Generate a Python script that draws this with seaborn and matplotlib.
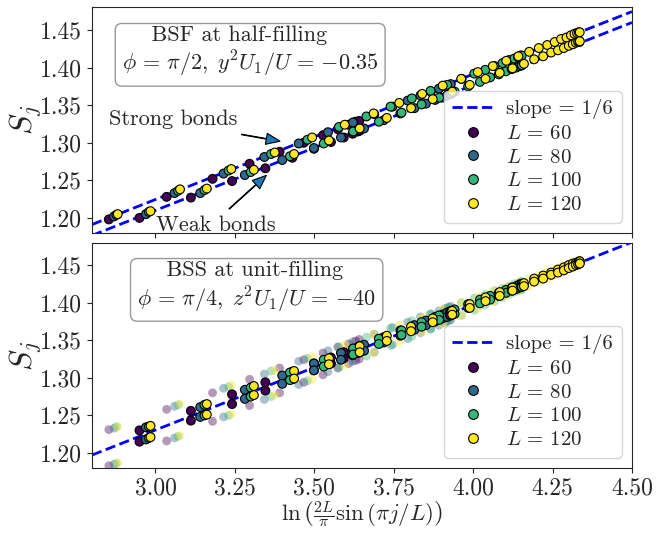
import numpy as np
import pandas as pd
import matplotlib
matplotlib.use("Agg")
import matplotlib.pyplot as plt
from matplotlib.lines import Line2D
from matplotlib.ticker import FormatStrFormatter
import seaborn as sns

sns.set_style("ticks")
plt.rcParams.update({
    "font.family": "serif",
    "font.serif": ["cmr10"],
    "mathtext.fontset": "cm",
    "axes.formatter.use_mathtext": True,
    "axes.unicode_minus": False,
})

# ---------------- data ----------------
sizes = [60, 80, 100, 120]
first_site = 9          # first visible site index j; sites run j = 9 .. L/2

# top panel: BSF at half-filling (one value per site)
S_top_60 = [1.198, 1.200, 1.228, 1.227, 1.252, 1.249, 1.272, 1.266, 1.288, 1.280, 1.300,
            1.292, 1.310, 1.301, 1.318, 1.307, 1.324, 1.312, 1.328, 1.315, 1.329, 1.316]
S_top_80 = [1.202, 1.205, 1.233, 1.233, 1.259, 1.257, 1.281, 1.277, 1.299, 1.293, 1.314,
            1.307, 1.327, 1.319, 1.338, 1.330, 1.348, 1.339, 1.356, 1.346, 1.363, 1.352,
            1.368, 1.357, 1.372, 1.360, 1.375, 1.363, 1.377, 1.365, 1.378, 1.365]
S_top_100 = [1.204, 1.208, 1.236, 1.237, 1.263, 1.261, 1.285, 1.282, 1.304, 1.299, 1.321,
             1.315, 1.335, 1.328, 1.348, 1.340, 1.359, 1.351, 1.369, 1.360, 1.377, 1.368,
             1.385, 1.375, 1.392, 1.381, 1.397, 1.387, 1.402, 1.391, 1.406, 1.395, 1.410,
             1.398, 1.412, 1.400, 1.414, 1.402, 1.416, 1.403, 1.416, 1.403]
S_top_120 = [1.205, 1.209, 1.238, 1.239, 1.265, 1.264, 1.287, 1.285, 1.307, 1.303, 1.324,
             1.319, 1.339, 1.333, 1.353, 1.346, 1.365, 1.358, 1.376, 1.368, 1.385, 1.377,
             1.394, 1.385, 1.402, 1.393, 1.409, 1.399, 1.415, 1.405, 1.421, 1.411, 1.426,
             1.415, 1.430, 1.420, 1.434, 1.423, 1.438, 1.426, 1.440, 1.429, 1.443, 1.431,
             1.445, 1.433, 1.446, 1.434, 1.447, 1.434, 1.447, 1.435]

# bottom panel: BSS at unit-filling (two values per site: upper / lower)
S_bot_up_60 = [1.231, 1.230, 1.258, 1.256, 1.280, 1.278, 1.298, 1.294, 1.313, 1.308, 1.324,
               1.319, 1.333, 1.327, 1.341, 1.334, 1.345, 1.338, 1.349, 1.341, 1.351, 1.342]
S_bot_lo_60 = [1.183, 1.215, 1.216, 1.243, 1.242, 1.265, 1.263, 1.283, 1.280, 1.298, 1.294,
               1.310, 1.304, 1.319, 1.313, 1.326, 1.319, 1.330, 1.323, 1.333, 1.325, 1.334]
S_bot_up_80 = [1.233, 1.234, 1.262, 1.261, 1.286, 1.284, 1.305, 1.303, 1.322, 1.319, 1.336,
               1.333, 1.348, 1.344, 1.358, 1.354, 1.367, 1.363, 1.374, 1.370, 1.381, 1.376,
               1.385, 1.381, 1.389, 1.384, 1.392, 1.387, 1.394, 1.388, 1.395, 1.389]
S_bot_lo_80 = [1.185, 1.218, 1.220, 1.248, 1.248, 1.272, 1.271, 1.292, 1.291, 1.310, 1.308,
               1.324, 1.322, 1.336, 1.334, 1.347, 1.344, 1.356, 1.352, 1.364, 1.360, 1.370,
               1.365, 1.375, 1.370, 1.379, 1.373, 1.381, 1.376, 1.383, 1.377, 1.383]
S_bot_up_100 = [1.235, 1.235, 1.264, 1.264, 1.288, 1.287, 1.309, 1.307, 1.326, 1.324, 1.341,
                1.339, 1.354, 1.352, 1.366, 1.363, 1.376, 1.374, 1.385, 1.383, 1.393, 1.391,
                1.400, 1.398, 1.406, 1.404, 1.411, 1.409, 1.416, 1.413, 1.419, 1.417, 1.422,
                1.420, 1.425, 1.422, 1.426, 1.424, 1.428, 1.425, 1.428, 1.425]
S_bot_lo_100 = [1.186, 1.220, 1.222, 1.250, 1.250, 1.275, 1.275, 1.297, 1.296, 1.315, 1.314,
                1.331, 1.329, 1.345, 1.343, 1.357, 1.355, 1.368, 1.365, 1.377, 1.375, 1.385,
                1.383, 1.393, 1.390, 1.399, 1.397, 1.404, 1.402, 1.409, 1.407, 1.413, 1.411,
                1.416, 1.414, 1.418, 1.416, 1.420, 1.417, 1.421, 1.418, 1.421]
S_bot_up_120 = [1.235, 1.236, 1.265, 1.265, 1.290, 1.289, 1.310, 1.309, 1.328, 1.326, 1.344,
                1.342, 1.358, 1.356, 1.370, 1.368, 1.381, 1.379, 1.391, 1.389, 1.400, 1.398,
                1.408, 1.407, 1.415, 1.414, 1.421, 1.420, 1.427, 1.426, 1.432, 1.432, 1.437,
                1.436, 1.441, 1.440, 1.444, 1.444, 1.448, 1.447, 1.450, 1.450, 1.452, 1.452,
                1.454, 1.453, 1.455, 1.454, 1.456, 1.455, 1.457, 1.455]
S_bot_lo_120 = [1.187, 1.221, 1.223, 1.251, 1.252, 1.277, 1.277, 1.299, 1.298, 1.318, 1.317,
                1.334, 1.333, 1.349, 1.348, 1.362, 1.361, 1.374, 1.372, 1.384, 1.383, 1.393,
                1.392, 1.402, 1.401, 1.409, 1.409, 1.416, 1.416, 1.422, 1.422, 1.428, 1.428,
                1.432, 1.432, 1.437, 1.437, 1.440, 1.440, 1.443, 1.443, 1.446, 1.446, 1.448,
                1.448, 1.450, 1.449, 1.451, 1.450, 1.452, 1.451, 1.452]

S_top = {60: S_top_60, 80: S_top_80, 100: S_top_100, 120: S_top_120}
S_bot_up = {60: S_bot_up_60, 80: S_bot_up_80, 100: S_bot_up_100, 120: S_bot_up_120}
S_bot_lo = {60: S_bot_lo_60, 80: S_bot_lo_80, 100: S_bot_lo_100, 120: S_bot_lo_120}

# intercepts of the slope-1/6 guide lines
top_line_intercepts = [0.7245, 0.7100]
bot_line_intercept = 0.7305
slope = 1.0 / 6.0

xticks = [3.00, 3.25, 3.50, 3.75, 4.00, 4.25, 4.50]
yticks = [1.20, 1.25, 1.30, 1.35, 1.40, 1.45]

top_box_text = "    BSF at half-filling\n$\\phi\\,=\\,\\pi/2,\\;y^2U_1/U\\,=\\,{-}0.35$"
bot_box_text = "    BSS at unit-filling\n$\\phi\\,=\\,\\pi/4,\\;z^2U_1/U\\,=\\,{-}40$"

# ---------------- build tables ----------------
def chord(L, j):
    return np.log(2 * L / np.pi * np.sin(np.pi * j / L))

rows_top = []
rows_bot = []
for L in sizes:
    j = np.arange(first_site, L // 2 + 1)
    x = chord(L, j)
    rows_top.append(pd.DataFrame({"x": x, "S": S_top[L], "L": L}))
    for S in (S_bot_up[L], S_bot_lo[L]):
        rows_bot.append(pd.DataFrame({"x": x, "S": S, "L": L, "solid": (j % 2 == 0)}))
df_top = pd.concat(rows_top, ignore_index=True)
df_bot = pd.concat(rows_bot, ignore_index=True).sort_values("L", kind="stable")

cmap = plt.cm.viridis
palette = {L: cmap(i / (len(sizes) - 1)) for i, L in enumerate(sizes)}

# ---------------- figure ----------------
fig = plt.figure(figsize=(6.65, 5.33), dpi=100)
ax1 = fig.add_axes([0.1383, 0.563, 0.812, 0.423])
ax2 = fig.add_axes([0.1383, 0.122, 0.812, 0.423])

xl = np.array([2.8, 4.5])
for a in top_line_intercepts:
    ax1.plot(xl, a + slope * xl, ls="--", color="blue", lw=2, zorder=2)
ax2.plot(xl, bot_line_intercept + slope * xl, ls="--", color="blue", lw=2, zorder=2)

sns.scatterplot(data=df_top, x="x", y="S", hue="L", palette=palette, s=40,
                edgecolor="black", linewidth=0.8, legend=False, ax=ax1, zorder=3)
sns.scatterplot(data=df_bot[~df_bot["solid"]], x="x", y="S", hue="L", palette=palette,
                s=40, alpha=0.4, linewidth=0, legend=False, ax=ax2, zorder=3)
sns.scatterplot(data=df_bot[df_bot["solid"]], x="x", y="S", hue="L", palette=palette,
                s=40, edgecolor="black", linewidth=0.8, legend=False, ax=ax2, zorder=4)

handles = [Line2D([], [], ls="--", color="blue", lw=2)] + [
    Line2D([], [], ls="", marker="o", ms=7, mfc=palette[L], mec="black", mew=0.8)
    for L in sizes]
labels = ["slope = 1/6"] + [f"$L\\,=\\,{L}$" for L in sizes]

for ax, txt, bx in ((ax1, top_box_text, 0.293), (ax2, bot_box_text, 0.305)):
    ax.set_xlim(2.8, 4.5)
    ax.set_ylim(1.18, 1.48)
    ax.set_xticks(xticks)
    ax.set_yticks(yticks)
    ax.xaxis.set_major_formatter(FormatStrFormatter("%.2f"))
    ax.yaxis.set_major_formatter(FormatStrFormatter("%.2f"))
    ax.tick_params(labelsize=17)
    ax.set_xlabel("")
    ax.set_ylabel("$S_j$", fontsize=23)
    ax.yaxis.set_label_coords(-0.088, 0.5)
    ax.legend(handles, labels, loc="lower right", fontsize=15, handlelength=2.0,
              labelspacing=0.25, handletextpad=0.6)
    ax.text(bx, 0.80, txt, transform=ax.transAxes, ha="center", va="center",
            multialignment="left", fontsize=16,
            bbox=dict(boxstyle="round,pad=0.3", fc="white", ec="0.6", lw=1))

ax1.tick_params(labelbottom=False)
ax2.set_xlabel(r"$\ln\left(\frac{2L}{\pi}\sin\left(\pi j/L\right)\right)$", fontsize=16.5,
               labelpad=0)

arrow = dict(facecolor="tab:blue", edgecolor="black", width=0.4, headwidth=8,
             headlength=10, shrink=0.0, lw=0.8)
ax1.annotate("", xy=(3.392, 1.302), xytext=(3.271, 1.311), arrowprops=arrow, zorder=5)
ax1.annotate("", xy=(3.349, 1.2566), xytext=(3.232, 1.212), arrowprops=arrow, zorder=5)
ax1.text(3.055, 1.323, "Strong bonds", ha="center", va="baseline", fontsize=16, zorder=5)
ax1.text(3.19, 1.183, "Weak bonds", ha="center", va="baseline", fontsize=16, zorder=5)

fig.savefig("out.png", dpi=100)
